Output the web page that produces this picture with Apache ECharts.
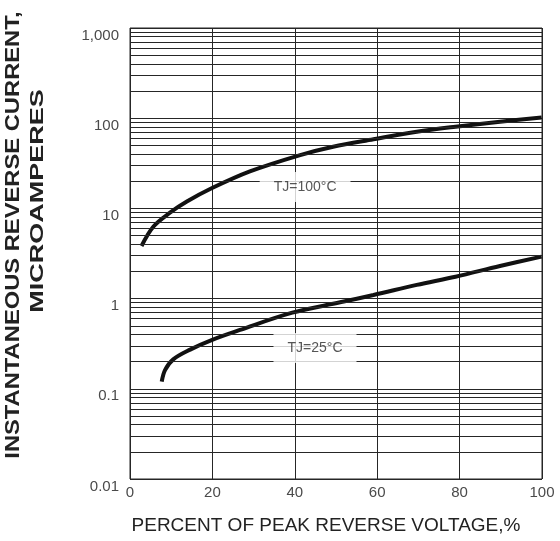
<!DOCTYPE html>
<html>
<head>
<meta charset="utf-8">
<script src="https://cdn.jsdelivr.net/npm/echarts@6/dist/echarts.min.js"></script>
<style>html,body{margin:0;padding:0;background:#fff;}#c{width:560px;height:541px;}</style>
</head>
<body>
<div id="c"></div>
<script>
// ---- data ----
var xTicks = [0, 20, 40, 60, 80, 100];
var yTickValues = [0.01, 0.1, 1, 10, 100, 1000];
var yTickLabels = ['0.01', '0.1', '1', '10', '100', '1,000'];
var decades = [0.01, 0.1, 1, 10, 100];
var minorMultipliers = [2, 3, 4, 5, 6, 7, 8, 9];

var tj100X = [2.8, 5.7, 9.7, 13.8, 19.8, 29.1, 41.3, 49.3, 59.1, 69.6, 79, 89.8, 99.9];
var tj100Y = [3.83, 6.3, 8.96, 11.9, 16.7, 25.7, 39, 48.3, 58.4, 70.8, 80.5, 91.4, 102];
var tj25X = [7.7, 8.5, 10.5, 14.6, 19.8, 26.7, 39.4, 51, 59.1, 69.6, 79, 89.8, 99.9];
var tj25Y = [0.12, 0.161, 0.212, 0.272, 0.347, 0.449, 0.698, 0.91, 1.096, 1.42, 1.75, 2.3, 2.92];

var curveLabels = ['TJ=100°C', 'TJ=25°C'];
var labelX = [42.5, 44.9];
var labelY = [17.3, 0.283];

function zip(a, b) { return a.map(function (v, i) { return [v, b[i]]; }); }

var minorLines = [];
decades.forEach(function (d) {
  minorMultipliers.forEach(function (m) { minorLines.push({ yAxis: +(d * m).toPrecision(3) }); });
});

var gridColor = '#262626';
var chart = echarts.init(document.getElementById('c'));
chart.setOption({
  animation: false,
  backgroundColor: '#fff',
  grid: { left: 130, right: 18, top: 28, bottom: 62, show: true, borderColor: gridColor, borderWidth: 1, containLabel: false },
  xAxis: {
    type: 'value', min: 0, max: 100, interval: 20,
    axisLine: { show: false }, axisTick: { show: false },
    splitLine: { show: true, lineStyle: { color: gridColor, width: 1 } },
    axisLabel: { color: '#4a4a4a', fontFamily: 'Liberation Sans', fontSize: 15, margin: 6,
      formatter: function (v) { return xTicks.indexOf(v) >= 0 ? String(v) : ''; } }
  },
  yAxis: {
    type: 'log', logBase: 10, min: 0.01, max: 1000,
    axisLine: { show: false }, axisTick: { show: false },
    splitLine: { show: true, lineStyle: { color: gridColor, width: 1 } },
    axisLabel: { color: '#4a4a4a', fontFamily: 'Liberation Sans', fontSize: 15, margin: 11, verticalAlign: 'top',
      formatter: function (v) {
        for (var i = 0; i < yTickValues.length; i++) {
          if (Math.abs(Math.log10(v) - Math.log10(yTickValues[i])) < 1e-6) return yTickLabels[i];
        }
        return '';
      } }
  },
  series: [
    {
      type: 'line', data: [], z: 1, silent: true,
      markLine: { silent: true, symbol: 'none', label: { show: false }, animation: false,
        lineStyle: { color: gridColor, width: 1, type: 'solid' }, data: minorLines }
    },
    {
      type: 'line', data: zip(tj100X, tj100Y), smooth: 0.35, showSymbol: false, z: 3,
      lineStyle: { color: '#111', width: 4 }
    },
    {
      type: 'line', data: zip(tj25X, tj25Y), smooth: 0.35, showSymbol: false, z: 3,
      lineStyle: { color: '#111', width: 4 }
    },
    {
      type: 'scatter', z: 5, symbolSize: 0, silent: true, itemStyle: { color: 'rgba(0,0,0,0)' },
      data: labelX.map(function (x, i) { return { value: [x, labelY[i]], name: curveLabels[i] }; }),
      label: { show: true, position: 'inside', formatter: '{b}', color: '#2a2a2a', fontFamily: 'Liberation Sans',
        fontSize: 14, backgroundColor: '#fff', padding: [8, 14] }
    }
  ],
  graphic: [
    { type: 'text', x: 13, y: 235, rotation: Math.PI / 2, scaleX: 1.13, scaleY: 1,
      style: { text: 'INSTANTANEOUS REVERSE CURRENT,', fontFamily: 'Liberation Sans', fontWeight: 'bold', fontSize: 21,
        fill: '#222', align: 'center', verticalAlign: 'middle' } },
    { type: 'text', x: 38, y: 201, rotation: Math.PI / 2, scaleX: 1.5, scaleY: 1,
      style: { text: 'MICROAMPERES', fontFamily: 'Liberation Sans', fontWeight: 'bold', fontSize: 18,
        fill: '#222', align: 'center', verticalAlign: 'middle' } },
    { type: 'text', x: 326, y: 526,
      style: { text: 'PERCENT OF PEAK REVERSE VOLTAGE,%', fontFamily: 'Liberation Sans', fontSize: 19,
        fill: '#222', align: 'center', verticalAlign: 'middle' } }
  ]
});
</script>
</body>
</html>
